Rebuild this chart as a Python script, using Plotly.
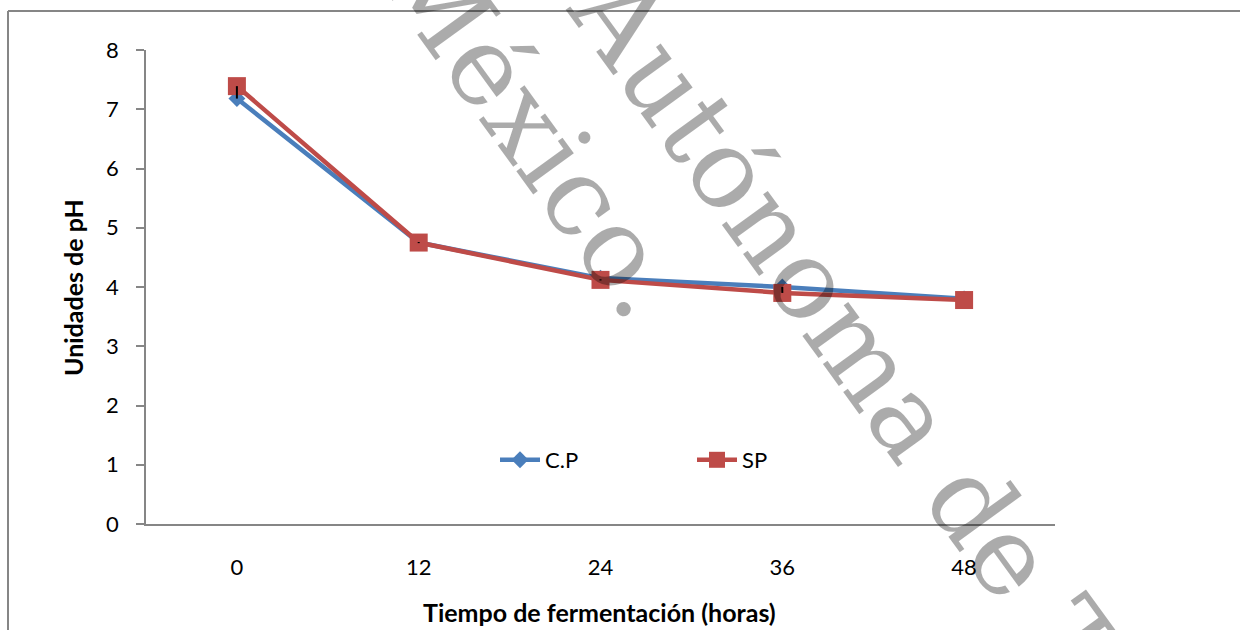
import plotly.graph_objects as go

categories = ["0", "12", "24", "36", "48"]
cp_values = [7.18, 4.75, 4.15, 4.00, 3.80]
sp_values = [7.39, 4.75, 4.12, 3.90, 3.78]
sp_err_plus = [0.0, 0.01, 0.01, 0.10, 0.0]
sp_err_minus = [0.21, 0.01, 0.01, 0.0, 0.0]
y_ticks = [0, 1, 2, 3, 4, 5, 6, 7, 8]

BLUE = "#4a7ebb"
RED = "#be4b48"
GRAY = "#868686"
FONT = "Lato"
SERIF = "DejaVu Serif"

fig = go.Figure()
fig.add_trace(go.Scatter(
    x=categories, y=cp_values, name="C.P", mode="lines+markers",
    line=dict(color=BLUE, width=4.5),
    marker=dict(symbol="diamond", size=13, color=BLUE),
))
fig.add_trace(go.Scatter(
    x=categories, y=sp_values, name="SP", mode="lines+markers",
    line=dict(color=RED, width=4.5),
    marker=dict(symbol="square", size=18, color=RED),
))
fig.add_trace(go.Scatter(
    x=categories, y=sp_values, mode="markers", showlegend=False,
    marker=dict(size=1, opacity=0),
    error_y=dict(type="data", symmetric=False, array=sp_err_plus,
                 arrayminus=sp_err_minus, color="black", thickness=2, width=0),
    hoverinfo="skip",
))

L, R, T, B = 146, 185, 50, 106
W, H = 1240, 630
pw, ph = W - L - R, H - T - B

def px(x):
    return (x - L) / pw

def py(y):
    return (H - B - y) / ph

wm_color = "rgba(0,0,0,0.33)"
annotations = [
    dict(text="<b>Unidades de pH</b>", xref="paper", yref="paper",
         x=px(73), y=py(288), textangle=-90, showarrow=False,
         font=dict(family=FONT, size=25, color="black"),
         xanchor="center", yanchor="middle"),
    dict(text="<b>Tiempo de fermentación (horas)</b>", xref="paper", yref="paper",
         x=px(599), y=py(612), showarrow=False,
         font=dict(family=FONT, size=25, color="black"),
         xanchor="center", yanchor="middle"),
    dict(text="México.", xref="paper", yref="paper",
         x=px(532), y=py(128), textangle=54, showarrow=False,
         font=dict(family=SERIF, size=110, color=wm_color),
         xanchor="center", yanchor="middle"),
    dict(text="Autónoma de Tlaxcala", xref="paper", yref="paper",
         x=px(960), y=py(488), textangle=54, showarrow=False,
         font=dict(family=SERIF, size=110, color=wm_color),
         xanchor="center", yanchor="middle"),
]

shapes = [
    dict(type="line", xref="paper", yref="paper", x0=px(8), x1=px(8),
         y0=py(11), y1=py(640), line=dict(color=GRAY, width=2)),
    dict(type="line", xref="paper", yref="paper", x0=px(8), x1=px(1250),
         y0=py(11), y1=py(11), line=dict(color=GRAY, width=2)),
]

fig.update_layout(
    width=W, height=H,
    margin=dict(l=L, r=R, t=T, b=B),
    paper_bgcolor="white", plot_bgcolor="white",
    font=dict(family=FONT, size=21, color="black"),
    showlegend=True,
    legend=dict(orientation="h", x=px(495), y=py(460), xanchor="left", yanchor="middle",
                bgcolor="rgba(0,0,0,0)", font=dict(family=FONT, size=22),
                entrywidth=142, itemwidth=40),
    xaxis=dict(type="category", range=[-0.5, 4.5], showline=True, linecolor=GRAY,
               linewidth=1.5, ticks="", showgrid=False, zeroline=False,
               ticklabelstandoff=23, tickfont=dict(family=FONT, size=22)),
    yaxis=dict(range=[0, 8], tickvals=y_ticks, showline=True, linecolor=GRAY,
               linewidth=1.5, ticks="outside", ticklen=8, tickcolor=GRAY, tickwidth=1.5,
               showgrid=False, zeroline=False, ticklabelstandoff=13,
               tickfont=dict(family=FONT, size=22)),
    annotations=annotations,
    shapes=shapes,
)

fig.write_html("out.html")
